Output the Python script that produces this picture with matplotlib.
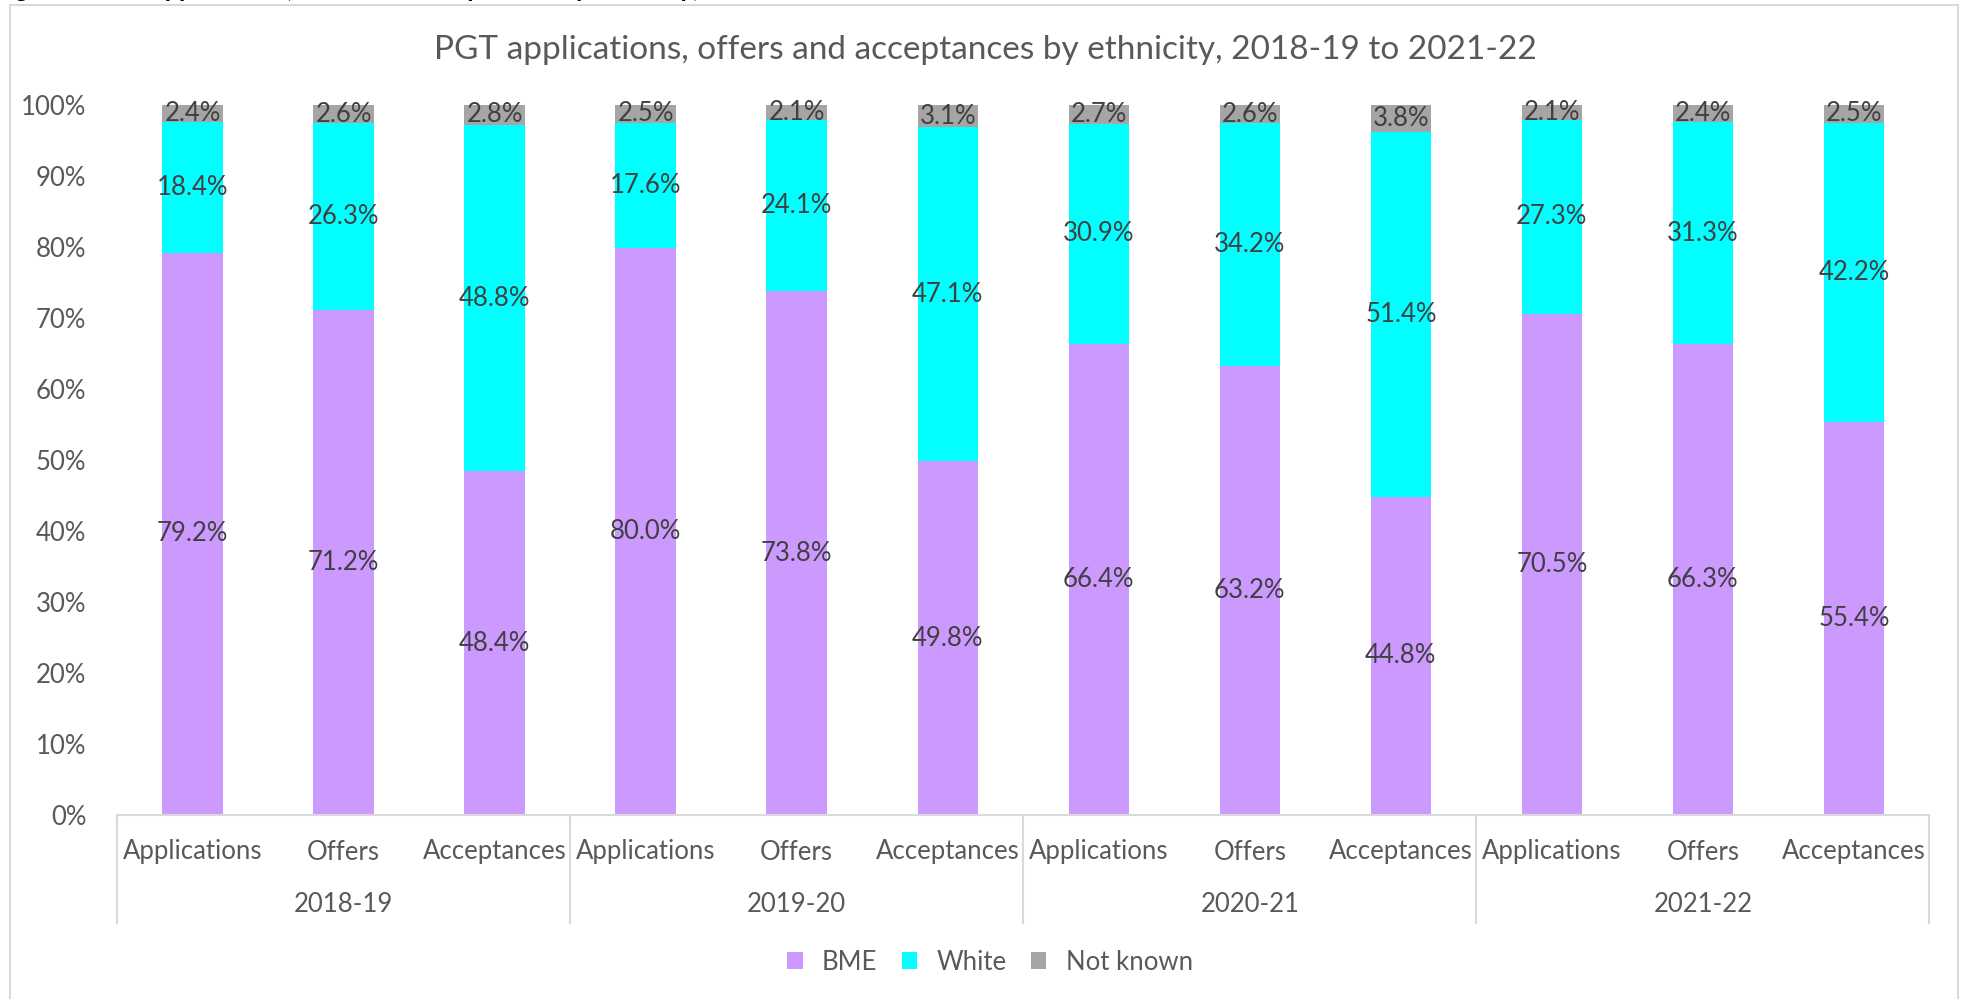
import numpy as np
import matplotlib
matplotlib.use("Agg")
import matplotlib.pyplot as plt
from matplotlib.patches import Patch, Rectangle
from matplotlib.transforms import blended_transform_factory

plt.rcParams['font.family'] = ['Lato', 'DejaVu Sans']

# ---------------- DATA ----------------
years = ["2018-19", "2019-20", "2020-21", "2021-22"]
stages = ["Applications", "Offers", "Acceptances"]

bme = [79.2, 71.2, 48.4, 80.0, 73.8, 49.8, 66.4, 63.2, 44.8, 70.5, 66.3, 55.4]
white = [18.4, 26.3, 48.8, 17.6, 24.1, 47.1, 30.9, 34.2, 51.4, 27.3, 31.3, 42.2]
not_known = [2.4, 2.6, 2.8, 2.5, 2.1, 3.1, 2.7, 2.6, 3.8, 2.1, 2.4, 2.5]

series_names = ["BME", "White", "Not known"]
colors = ["#CC99FF", "#00FFFF", "#A5A5A5"]

# ---------------- PLOT ----------------
W, H = 1968, 999
FS = 18.5
fig = plt.figure(figsize=(W / 100, H / 100), dpi=100)

# chart border
fig.patches.append(Rectangle((10 / W, -0.05), (1958 - 10) / W, 1.05 - 5 / H,
                             transform=fig.transFigure, fill=False,
                             edgecolor="#D9D9D9", linewidth=1.5))

# caption, cut off at the top edge like in the source
fig.text(-4 / W, 1 + 3 / H, "Figure 6: PGT applications, offers and acceptances by ethnicity, 2018-19 to 2021-22",
         fontsize=19, fontweight="bold", fontstyle="italic", color="black", va="baseline", ha="left")

ax = fig.add_axes([117 / W, 1 - 815 / H, (1929.5 - 117) / W, (815 - 105) / H])

data = np.array([bme, white, not_known])
totals = data.sum(axis=0)
shares = data / totals * 100

x = np.arange(len(bme))
bottom = np.zeros(len(bme))
for vals, shr, name, col in zip(data, shares, series_names, colors):
    ax.bar(x, shr, bottom=bottom, width=0.40, color=col, label=name, zorder=2)
    for xi, v, b, s in zip(x, vals, bottom, shr):
        ax.text(xi, b + s / 2, f"{v:.1f}%", ha="center", va="center",
                fontsize=FS, color="#404040", zorder=3)
    bottom = bottom + shr

ax.set_xlim(-0.5, len(bme) - 0.5)
ax.set_ylim(0, 100)
ax.set_yticks(np.arange(0, 101, 10))
ax.set_yticklabels([f"{v}%" for v in range(0, 101, 10)])
ax.tick_params(axis="y", length=0, labelsize=FS, labelcolor="#595959", pad=22)
ax.tick_params(axis="x", length=0, labelbottom=False)

for s in ["top", "right", "left"]:
    ax.spines[s].set_visible(False)
ax.spines["bottom"].set_color("#D9D9D9")
ax.spines["bottom"].set_linewidth(1.5)

# two-level category axis
trans = blended_transform_factory(ax.transData, ax.transAxes)
sub_y = -(852 - 815) / 710
grp_y = -(905 - 815) / 710
for i in range(len(bme)):
    ax.text(x[i], sub_y, stages[i % 3], transform=trans, ha="center", va="center",
            fontsize=FS, color="#595959")
for g, yr in enumerate(years):
    ax.text(g * 3 + 1, grp_y, yr, transform=trans, ha="center", va="center",
            fontsize=FS, color="#595959")
for sep in np.arange(-0.5, len(bme), 3):
    ax.plot([sep, sep], [0, -(923 - 815) / 710], transform=trans, color="#D9D9D9",
            linewidth=1.5, clip_on=False)

# title is centred on the whole chart box, not on the plot area
fig.text(985 / W, 1 - 50 / H,
         "PGT applications, offers and acceptances by ethnicity, 2018-19 to 2021-22",
         fontsize=24, color="#595959", ha="center", va="center")

handles = [Patch(facecolor=c, edgecolor="none") for c in colors]
fig.legend(handles, series_names, loc="center", bbox_to_anchor=(990 / W, 1 - 962 / H),
           ncol=3, frameon=False, fontsize=FS, labelcolor="#595959",
           handlelength=0.6, handleheight=0.6, handletextpad=0.75, columnspacing=0.95)

fig.savefig("out.png", dpi=100)
